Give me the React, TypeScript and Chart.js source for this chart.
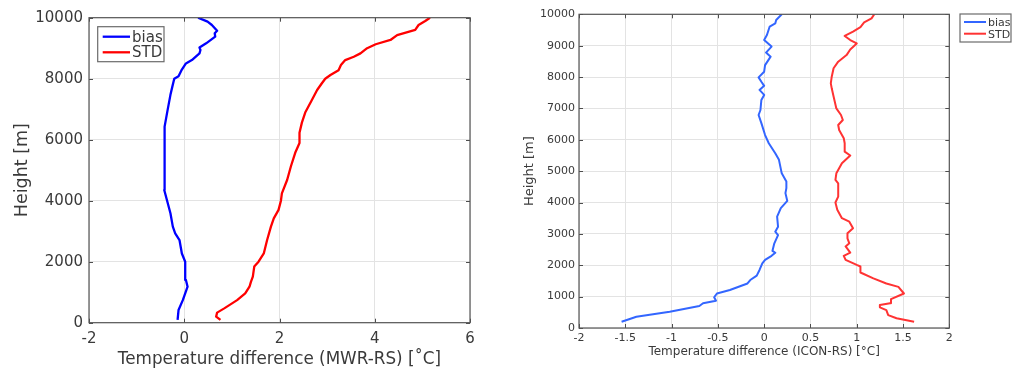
import React, { useEffect, useRef } from "react";
import { Chart, registerables } from "chart.js";
Chart.register(...registerables);

// ---------- Left panel: MWR - RS ----------
const mwrBiasHeight = [90, 415, 740, 1180, 1400, 1840, 2000, 2270, 2710, 2930, 3150, 3590, 4000, 4350, 4900, 5440, 6000, 6430, 6970, 7470, 7740, 8000, 8080, 8300, 8500, 8610, 8830, 8940, 9020, 9160, 9380, 9490, 9570, 9760, 9870, 10000];
const mwrBiasValue = [-0.14, -0.12, -0.03, 0.07, 0.035, 0.02, 0.02, -0.05, -0.1, -0.19, -0.24, -0.29, -0.36, -0.42, -0.42, -0.41, -0.41, -0.41, -0.35, -0.29, -0.25, -0.21, -0.12, -0.05, 0.035, 0.16, 0.32, 0.34, 0.32, 0.46, 0.65, 0.64, 0.69, 0.58, 0.49, 0.29];
const mwrStdHeight = [90, 200, 330, 470, 740, 960, 1180, 1340, 1510, 1840, 2000, 2270, 2710, 3150, 3420, 3700, 4000, 4240, 4680, 5130, 5570, 5890, 6230, 6560, 6890, 7300, 7630, 7850, 8000, 8120, 8280, 8450, 8610, 8720, 8830, 9000, 9130, 9270, 9430, 9600, 9760, 9890, 10000];
const mwrStdValue = [0.76, 0.67, 0.69, 0.84, 1.11, 1.28, 1.37, 1.4, 1.44, 1.47, 1.56, 1.67, 1.74, 1.82, 1.88, 1.98, 2.03, 2.05, 2.16, 2.24, 2.33, 2.42, 2.42, 2.47, 2.54, 2.68, 2.79, 2.89, 2.96, 3.07, 3.24, 3.29, 3.38, 3.56, 3.7, 3.84, 4.02, 4.33, 4.47, 4.85, 4.92, 5.06, 5.16];
const mwrXTicks = [-2, 0, 2, 4, 6];
const mwrYTicks = [0, 2000, 4000, 6000, 8000, 10000];

// ---------- Right panel: ICON - RS ----------
const iconBiasHeight = [200, 360, 520, 700, 790, 870, 980, 1100, 1210, 1420, 1530, 1670, 1850, 2060, 2170, 2300, 2400, 2460, 2700, 2960, 3070, 3230, 3550, 3820, 4050, 4300, 4460, 4670, 4930, 5360, 5570, 5890, 6150, 6530, 6790, 6950, 7270, 7430, 7590, 7720, 7850, 7990, 8170, 8380, 8650, 8780, 8970, 9180, 9340, 9610, 9710, 9820, 10000];
const iconBiasValue = [-1.54, -1.38, -1.02, -0.7, -0.66, -0.52, -0.54, -0.51, -0.37, -0.18, -0.15, -0.08, -0.05, -0.02, 0.01, 0.08, 0.12, 0.09, 0.11, 0.15, 0.12, 0.15, 0.14, 0.18, 0.25, 0.23, 0.24, 0.24, 0.19, 0.16, 0.12, 0.05, 0.01, -0.03, -0.06, -0.04, -0.03, 0.0, -0.05, 0.0, -0.03, -0.06, 0.0, 0.01, 0.07, 0.02, 0.08, 0.0, 0.03, 0.06, 0.12, 0.13, 0.19];
const iconStdHeight = [200, 310, 410, 570, 660, 730, 790, 920, 1100, 1310, 1420, 1580, 1770, 1960, 2010, 2170, 2300, 2400, 2600, 2700, 2860, 3020, 3180, 3390, 3500, 3770, 4000, 4190, 4610, 4720, 4930, 5250, 5500, 5620, 5890, 6050, 6310, 6470, 6630, 6790, 7000, 7380, 7640, 7800, 8010, 8280, 8490, 8700, 8880, 9070, 9180, 9310, 9450, 9590, 9740, 9870, 10000];
const iconStdValue = [1.62, 1.43, 1.34, 1.32, 1.25, 1.25, 1.36, 1.37, 1.51, 1.45, 1.32, 1.18, 1.04, 1.04, 1.0, 0.88, 0.86, 0.93, 0.88, 0.92, 0.9, 0.9, 0.96, 0.92, 0.84, 0.79, 0.77, 0.8, 0.8, 0.77, 0.78, 0.84, 0.93, 0.87, 0.87, 0.86, 0.81, 0.8, 0.85, 0.83, 0.78, 0.75, 0.73, 0.72, 0.73, 0.75, 0.8, 0.89, 0.93, 1.0, 0.93, 0.87, 0.96, 1.04, 1.08, 1.16, 1.19];
const iconXTicks = [-2, -1.5, -1, -0.5, 0, 0.5, 1, 1.5, 2];
const iconYTicks = [0, 1000, 2000, 3000, 4000, 5000, 6000, 7000, 8000, 9000, 10000];

const seriesLabels = ["bias", "STD"];

const FONT = "'DejaVu Sans', 'Liberation Sans', sans-serif";
const TEXT = "#3a3a3a";

function pts(h: number[], v: number[]) {
  return h.map((y, i) => ({ x: v[i], y }));
}

type PanelCfg = {
  left: number;
  width: number;
  area: { l: number; r: number; t: number; b: number };
  xMin: number;
  xMax: number;
  xTicks: number[];
  yTicks: number[];
  xTitle: string;
  colors: string[];
  lineWidth: number;
  tickFont: number;
  xTitleFont: number;
  yTitleFont: number;
  yTitlePad: number;
  xTitlePad: number;
  tickPadX: number;
  tickPadY: number;
  legend: { x: number; y: number; w: number; h: number; lx0: number; lx1: number; tx: number; y0: number; y1: number; font: number };
  data: { h: number[]; v: number[] }[];
};

const framePlugin = {
  id: "frame",
  afterDatasetsDraw(chart: any, _args: any, opts: any) {
    const { ctx, chartArea: a, scales } = chart;
    ctx.save();
    ctx.strokeStyle = "#4d4d4d";
    ctx.lineWidth = 1;
    const tl = opts.tickLen;
    ctx.beginPath();
    scales.x.ticks.forEach((t: any) => {
      const px = Math.round(scales.x.getPixelForValue(t.value)) + 0.5;
      ctx.moveTo(px, a.bottom);
      ctx.lineTo(px, a.bottom - tl);
      ctx.moveTo(px, a.top);
      ctx.lineTo(px, a.top + tl);
    });
    scales.y.ticks.forEach((t: any) => {
      const py = Math.round(scales.y.getPixelForValue(t.value)) + 0.5;
      ctx.moveTo(a.left, py);
      ctx.lineTo(a.left + tl, py);
      ctx.moveTo(a.right, py);
      ctx.lineTo(a.right - tl, py);
    });
    ctx.stroke();
    ctx.strokeStyle = "#555555";
    ctx.lineWidth = 1.2;
    ctx.strokeRect(a.left, a.top, a.right - a.left, a.bottom - a.top);
    const L = opts.legend;
    ctx.fillStyle = "#ffffff";
    ctx.fillRect(L.x, L.y, L.w, L.h);
    ctx.strokeStyle = "#6b6b6b";
    ctx.lineWidth = 1.2;
    ctx.strokeRect(L.x, L.y, L.w, L.h);
    const ys = [L.y0, L.y1];
    chart.data.datasets.forEach((ds: any, i: number) => {
      ctx.strokeStyle = ds.borderColor;
      ctx.lineWidth = ds.borderWidth;
      ctx.beginPath();
      ctx.moveTo(L.lx0, ys[i]);
      ctx.lineTo(L.lx1, ys[i]);
      ctx.stroke();
      ctx.fillStyle = TEXT;
      ctx.font = `${L.font}px ${FONT}`;
      ctx.textBaseline = "middle";
      ctx.textAlign = "left";
      ctx.fillText(ds.label, L.tx, ys[i] + 1);
    });
    ctx.restore();
  },
};

function Panel({ cfg }: { cfg: PanelCfg }) {
  const ref = useRef<HTMLCanvasElement | null>(null);
  useEffect(() => {
    if (!ref.current) return;
    const H = 370;
    const { area } = cfg;
    const yAxisW = area.l - cfg.left;
    const xAxisH = H - area.b;
    const chart = new Chart(ref.current, {
      type: "scatter",
      data: {
        datasets: cfg.data.map((d, i) => ({
          label: seriesLabels[i],
          data: pts(d.h, d.v),
          showLine: true,
          borderColor: cfg.colors[i],
          backgroundColor: cfg.colors[i],
          borderWidth: cfg.lineWidth,
          borderJoinStyle: "round",
          pointRadius: 0,
          tension: 0,
        })),
      },
      options: {
        animation: false,
        responsive: false,
        maintainAspectRatio: false,
        layout: { padding: { left: 0, top: area.t, right: cfg.left + cfg.width - area.r, bottom: 0 } },
        plugins: {
          legend: { display: false },
          tooltip: { enabled: false },
          frame: { tickLen: 4, legend: { ...cfg.legend, x: cfg.legend.x - cfg.left, lx0: cfg.legend.lx0 - cfg.left, lx1: cfg.legend.lx1 - cfg.left, tx: cfg.legend.tx - cfg.left } },
        } as any,
        scales: {
          x: {
            type: "linear",
            min: cfg.xMin,
            max: cfg.xMax,
            afterBuildTicks: (s: any) => {
              s.ticks = cfg.xTicks.map((v) => ({ value: v }));
            },
            afterFit: (s: any) => {
              s.height = xAxisH;
            },
            ticks: {
              color: TEXT,
              font: { family: FONT, size: cfg.tickFont },
              padding: cfg.tickPadX,
              maxRotation: 0,
              callback: (v: any) => String(v),
            },
            grid: { color: "#e3e3e3", lineWidth: 1, drawTicks: false },
            border: { display: false },
            title: {
              display: true,
              text: cfg.xTitle,
              color: TEXT,
              font: { family: FONT, size: cfg.xTitleFont },
              padding: { top: 0, bottom: cfg.xTitlePad },
            },
          },
          y: {
            type: "linear",
            min: 0,
            max: 10000,
            afterBuildTicks: (s: any) => {
              s.ticks = cfg.yTicks.map((v) => ({ value: v }));
            },
            afterFit: (s: any) => {
              s.width = yAxisW;
            },
            ticks: {
              color: TEXT,
              font: { family: FONT, size: cfg.tickFont },
              padding: cfg.tickPadY,
              callback: (v: any) => String(v),
            },
            grid: { color: "#e3e3e3", lineWidth: 1, drawTicks: false },
            border: { display: false },
            title: {
              display: true,
              text: "Height [m]",
              color: TEXT,
              font: { family: FONT, size: cfg.yTitleFont },
              padding: { top: cfg.yTitlePad, bottom: 0 },
            },
          },
        },
      },
      plugins: [framePlugin],
    } as any);
    return () => chart.destroy();
  }, [cfg]);
  return (
    <canvas
      ref={ref}
      width={cfg.width}
      height={370}
      style={{ position: "absolute", left: cfg.left, top: 0, width: cfg.width, height: 370 }}
    />
  );
}

const leftCfg: PanelCfg = {
  left: 0,
  width: 500,
  area: { l: 89, r: 470, t: 17.7, b: 322.7 },
  xMin: -2,
  xMax: 6,
  xTicks: mwrXTicks,
  yTicks: mwrYTicks,
  xTitle: "Temperature difference (MWR-RS) [˚C]",
  colors: ["#0000ff", "#ff0000"],
  lineWidth: 2.3,
  tickFont: 15,
  xTitleFont: 16.8,
  yTitleFont: 17.5,
  yTitlePad: 11.5,
  xTitlePad: 0,
  tickPadX: 7,
  tickPadY: 6,
  legend: { x: 97.7, y: 26.7, w: 66.3, h: 35, lx0: 102.7, lx1: 130, tx: 132, y0: 36.7, y1: 52.3, font: 15 },
  data: [
    { h: mwrBiasHeight, v: mwrBiasValue },
    { h: mwrStdHeight, v: mwrStdValue },
  ],
};

const rightCfg: PanelCfg = {
  left: 500,
  width: 512,
  area: { l: 579, r: 949.3, t: 14.3, b: 328 },
  xMin: -2,
  xMax: 2,
  xTicks: iconXTicks,
  yTicks: iconYTicks,
  xTitle: "Temperature difference (ICON-RS) [°C]",
  colors: ["#3366ff", "#ff3333"],
  lineWidth: 2,
  tickFont: 11,
  xTitleFont: 12,
  yTitleFont: 13,
  yTitlePad: 22,
  xTitlePad: 10.8,
  tickPadX: 4,
  tickPadY: 4,
  legend: { x: 960, y: 14, w: 51, h: 28, lx0: 964, lx1: 986, tx: 988, y0: 22, y1: 33.7, font: 11 },
  data: [
    { h: iconBiasHeight, v: iconBiasValue },
    { h: iconStdHeight, v: iconStdValue },
  ],
};

export default function App() {
  return (
    <div style={{ position: "absolute", left: 0, top: 0, width: 1012, height: 370, background: "#ffffff" }}>
      <Panel cfg={leftCfg} />
      <Panel cfg={rightCfg} />
    </div>
  );
}
